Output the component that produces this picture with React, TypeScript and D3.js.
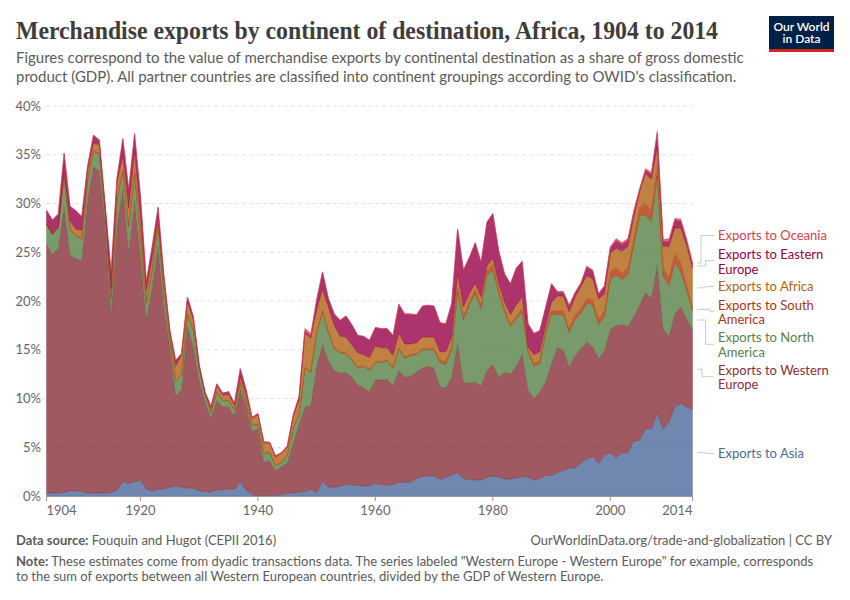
import React, { useEffect, useRef } from 'react';
import * as d3 from 'd3';

// values, % of GDP, one per year from 1904 to 2014
const firstYear = 1904;
const asia = [
  0.3, 0.3, 0.3, 0.35, 0.5, 0.55,
  0.45, 0.25, 0.3, 0.3, 0.3, 0.35, 0.6, 1.45, 1.3, 1.45,
  1.65, 0.7, 0.5, 0.7, 0.7, 0.9, 1.0, 0.9, 0.8, 0.8,
  0.55, 0.45, 0.4, 0.6, 0.65, 0.7, 0.7, 1.45, 0.6, 0.15,
  0.05, 0.05, 0.05, 0.1, 0.15, 0.25, 0.3, 0.4, 0.45, 0.7,
  0.35, 1.5, 0.9, 0.9, 1.0, 1.2, 1.15, 1.1, 1.0, 1.05,
  1.3, 1.15, 1.15, 1.15, 1.4, 1.4, 1.4, 1.8, 2.0, 2.05,
  2.05, 1.7, 1.9, 2.15, 2.4, 1.8, 1.7, 1.65, 1.65, 1.9,
  2.05, 1.95, 1.75, 1.75, 1.85, 2.0, 1.9, 1.65, 1.8, 2.1,
  2.1, 2.4, 2.65, 2.85, 2.9, 3.35, 3.8, 4.05, 3.35, 4.2,
  4.4, 3.95, 4.45, 4.45, 5.65, 5.7, 6.9, 6.9, 8.55, 6.85,
  7.6, 9.15, 9.5, 9.1, 8.9,
];
const westernEurope = [
  25.5, 24.5, 25.1, 29.3, 24.2, 23.8,
  23.7, 30.1, 33.5, 33.0, 27.7, 18.2, 27.0, 30.1, 23.8, 28.8,
  22.9, 17.4, 21.0, 24.9, 18.7, 14.4, 9.3, 10.0, 16.6, 14.5,
  11.3, 9.2, 7.6, 9.2, 8.5, 8.5, 7.5, 9.5, 8.6, 6.5,
  6.8, 3.4, 3.6, 2.5, 2.85, 3.15, 5.1, 6.9, 8.65, 8.6,
  12.95, 14.0, 13.0, 12.0, 11.6, 11.5, 11.05, 10.3, 10.1, 9.65,
  10.6, 10.75, 10.85, 10.15, 11.5, 10.8, 10.9, 10.95, 11.1, 11.25,
  11.05, 9.5, 9.2, 10.05, 13.3, 9.9, 9.9, 10.05, 9.65, 11.0,
  11.45, 10.25, 10.95, 10.75, 11.45, 12.6, 9.0, 8.35, 8.9, 9.6,
  11.5, 12.8, 12.35, 10.35, 11.5, 11.75, 12.0, 11.25, 10.75, 10.7,
  12.7, 13.55, 13.15, 12.95, 12.75, 13.9, 14.0, 13.4, 15.15, 10.35,
  8.8, 9.55, 9.9, 9.1, 8.2,
];
const northAmerica = [
  2.0, 2.0, 2.1, 3.2, 2.6, 2.3,
  2.2, 2.0, 1.5, 1.8, 1.2, 1.8, 2.8, 1.8, 2.5, 2.9,
  2.1, 1.7, 1.7, 2.2, 1.7, 0.9, 1.5, 1.5, 1.2, 1.7,
  1.2, 0.7, 0.6, 0.9, 0.6, 0.6, 0.6, 0.7, 0.5, 0.6,
  0.5, 0.9, 0.8, 0.5, 0.4, 0.8, 1.5, 1.0, 4.0, 3.4,
  3.4, 3.4, 2.9, 2.2, 2.1, 1.9, 1.8, 1.7, 2.2, 2.2,
  1.8, 1.8, 1.9, 1.8, 2.2, 1.9, 2.1, 1.75, 1.9, 1.7,
  1.9, 2.5, 2.4, 2.9, 5.3, 6.4, 8.0, 9.1, 7.9, 9.8,
  9.7, 8.6, 6.2, 4.9, 4.9, 4.2, 3.9, 3.3, 2.9, 5.0,
  5.1, 3.4, 3.6, 3.6, 3.7, 3.6, 4.0, 4.3, 3.5, 3.5,
  5.1, 5.2, 4.6, 5.3, 7.3, 9.2, 7.9, 7.8, 9.1, 5.3,
  5.2, 5.2, 3.6, 2.9, 1.9,
];
const southAmerica = [
  0.05, 0.05, 0.05, 0.1, 0.1, 0.1,
  0.1, 0.1, 0.1, 0.1, 0.1, 0.1, 0.1, 0.1, 0.1, 0.1,
  0.1, 0.1, 0.1, 0.1, 0.1, 0.1, 0.1, 0.1, 0.1, 0.1,
  0.05, 0.05, 0.05, 0.05, 0.05, 0.05, 0.05, 0.05, 0.05, 0.05,
  0.05, 0.05, 0.05, 0.05, 0.05, 0.05, 0.05, 0.05, 0.1, 0.1,
  0.1, 0.15, 0.1, 0.1, 0.1, 0.1, 0.1, 0.1, 0.1, 0.1,
  0.1, 0.1, 0.1, 0.1, 0.1, 0.15, 0.15, 0.1, 0.1, 0.15,
  0.15, 0.3, 0.3, 0.2, 0.4, 0.3, 0.3, 0.3, 0.4, 0.4,
  0.5, 0.3, 0.3, 0.2, 0.3, 0.4, 0.2, 0.3, 0.3, 0.3,
  0.3, 0.4, 0.4, 0.4, 0.5, 0.5, 0.5, 0.5, 0.5, 0.6,
  0.8, 0.7, 0.7, 0.7, 0.7, 0.8, 1.2, 1.2, 1.0, 0.9,
  0.8, 1.0, 0.9, 0.6, 0.3,
];
const africa = [
  0.05, 0.05, 0.05, 0.4, 0.8, 0.6,
  0.8, 0.9, 0.8, 0.8, 0.2, 0.8, 1.6, 1.5, 1.8, 2.1,
  1.9, 1.2, 1.2, 0.6, 1.0, 0.6, 1.4, 2.0, 1.2, 1.0,
  0.25, 0.15, 0.35, 0.55, 0.55, 0.55, 0.45, 0.55, 0.65, 0.65,
  0.95, 1.05, 0.95, 0.85, 0.95, 0.75, 1.15, 1.45, 3.5, 3.4,
  2.3, 2.15, 2.5, 2.3, 1.6, 1.6, 1.4, 1.5, 1.1, 1.2,
  1.6, 1.4, 1.2, 1.2, 1.5, 1.35, 1.05, 1.1, 1.2, 1.15,
  1.15, 0.8, 1.0, 1.0, 1.4, 1.0, 0.9, 0.7, 0.8, 0.5,
  0.7, 0.7, 0.7, 1.0, 1.1, 1.2, 0.3, 0.9, 0.9, 0.5,
  0.9, 1.5, 1.5, 1.7, 1.8, 2.3, 2.3, 2.2, 2.1, 1.7,
  1.9, 2.0, 2.2, 2.2, 2.2, 1.6, 3.1, 3.2, 2.0, 2.2,
  3.2, 2.6, 3.6, 4.0, 4.1,
];
const easternEurope = [
  1.4, 1.4, 1.3, 1.8, 1.5, 1.9,
  1.4, 0.5, 0.8, 0.5, 0.2, 1.7, 0.5, 1.7, 1.9, 1.8,
  2.1, 0.9, 1.1, 1.1, 0.3, 0.1, 0.6, 0.1, 0.5, 0.3,
  0.1, 0.1, 0.2, 0.2, 0.2, 0.3, 0.2, 0.8, 0.5, 0.1,
  0.1, 0.1, 0.05, 0.1, 0.05, 0.1, 0.2, 0.4, 0.2, 0.2,
  1.0, 1.75, 0.85, 1.15, 1.6, 2.15, 2.05, 1.75, 1.85, 1.75,
  1.85, 1.95, 1.95, 2.05, 2.95, 3.05, 3.05, 2.85, 3.15, 3.25,
  3.15, 2.95, 2.85, 3.45, 4.55, 3.75, 3.65, 4.15, 3.55, 4.45,
  4.55, 3.35, 2.85, 3.15, 3.75, 3.65, 2.35, 2.15, 2.15, 1.85,
  1.85, 0.4, 0.4, 0.6, 0.4, 0.3, 0.9, 0.8, 0.5, 0.8,
  0.5, 0.8, 0.7, 0.6, 0.5, 0.2, 0.3, 0.5, 1.4, 0.5,
  0.5, 0.8, 0.7, 0.5, 0.4,
];
const oceania = [
  0.02, 0.02, 0.02, 0.02, 0.02, 0.02,
  0.02, 0.02, 0.02, 0.02, 0.02, 0.02, 0.02, 0.02, 0.02, 0.02,
  0.02, 0.02, 0.02, 0.02, 0.02, 0.02, 0.02, 0.02, 0.02, 0.02,
  0.02, 0.02, 0.02, 0.02, 0.02, 0.02, 0.02, 0.02, 0.02, 0.02,
  0.02, 0.02, 0.02, 0.02, 0.02, 0.02, 0.02, 0.02, 0.3, 0.3,
  0.05, 0.05, 0.05, 0.05, 0.05, 0.05, 0.05, 0.05, 0.05, 0.05,
  0.05, 0.05, 0.05, 0.05, 0.05, 0.05, 0.05, 0.05, 0.05, 0.05,
  0.05, 0.05, 0.05, 0.05, 0.05, 0.05, 0.05, 0.05, 0.05, 0.05,
  0.05, 0.05, 0.05, 0.05, 0.05, 0.05, 0.05, 0.05, 0.05, 0.05,
  0.05, 0.1, 0.1, 0.1, 0.1, 0.1, 0.1, 0.1, 0.1, 0.1,
  0.2, 0.2, 0.2, 0.2, 0.2, 0.2, 0.2, 0.2, 0.3, 0.2,
  0.3, 0.2, 0.2, 0.2, 0.2,
];

const seriesNames = ['asia', 'westernEurope', 'northAmerica', 'southAmerica', 'africa', 'easternEurope', 'oceania'];
const seriesValues = [asia, westernEurope, northAmerica, southAmerica, africa, easternEurope, oceania];
const seriesColors = ['#4C6A9C', '#883039', '#578145', '#B13507', '#B16214', '#970046', '#D73C50'];

const yTicks = [0, 5, 10, 15, 20, 25, 30, 35, 40];
const xTicks = [1904, 1920, 1940, 1960, 1980, 2000, 2014];

// legend text on the right, with the baseline of its first line and the elbow of its connector
const legend = [
  { name: 'oceania', lines: ['Exports to Oceania'], baseline: 240.3, centre: 235.5, elbow: 701 },
  { name: 'easternEurope', lines: ['Exports to Eastern', 'Europe'], baseline: 259, centre: 260.7, elbow: 705.5 },
  { name: 'africa', lines: ['Exports to Africa'], baseline: 291.2, centre: 286.7, elbow: 705.5 },
  { name: 'southAmerica', lines: ['Exports to South', 'America'], baseline: 309.5, centre: 311.3, elbow: 710 },
  { name: 'northAmerica', lines: ['Exports to North', 'America'], baseline: 342, centre: 344.3, elbow: 705.5 },
  { name: 'westernEurope', lines: ['Exports to Western', 'Europe'], baseline: 374.5, centre: 376.7, elbow: 702 },
  { name: 'asia', lines: ['Exports to Asia'], baseline: 458, centre: 453.5, elbow: 705.5 },
];

const width = 850;
const height = 600;
const sans = 'Lato, sans-serif';

const App = () => {
  const chartRef = useRef<SVGGElement | null>(null);

  useEffect(() => {
    const g = d3.select(chartRef.current);
    g.selectAll('*').remove();

    const rows = asia.map((_, i) => {
      const row: Record<string, number> = { year: firstYear + i };
      seriesNames.forEach((name, s) => { row[name] = seriesValues[s][i]; });
      return row;
    });

    const x = d3.scaleLinear().domain([1904, 2014]).range([46.5, 692.5]);
    const y = d3.scaleLinear().domain([0, 40]).range([496, 106]);
    const color = d3.scaleOrdinal<string, string>().domain(seriesNames).range(seriesColors);

    const stacked = d3.stack<Record<string, number>>().keys(seriesNames)(rows);
    const area = d3.area<any>()
      .x(d => x(d.data.year))
      .y0(d => y(d[0]))
      .y1(d => y(d[1]));

    // gridlines go under the areas, they show through a little
    g.append('g')
      .selectAll('line')
      .data(yTicks.filter(t => t > 0))
      .enter()
      .append('line')
      .attr('x1', 46.5)
      .attr('x2', 692.5)
      .attr('y1', d => y(d))
      .attr('y2', d => y(d))
      .attr('stroke', '#dddddd')
      .attr('stroke-dasharray', '3,4');

    g.append('g')
      .selectAll('path')
      .data(stacked)
      .enter()
      .append('path')
      .attr('d', area)
      .attr('fill', d => color(d.key))
      .attr('fill-opacity', 0.8)
      .attr('stroke', d => color(d.key))
      .attr('stroke-width', 0.5)
      .attr('stroke-opacity', 0.7);

    // y axis labels
    g.append('g')
      .selectAll('text')
      .data(yTicks)
      .enter()
      .append('text')
      .attr('x', 41)
      .attr('y', d => y(d) + 4.6)
      .attr('text-anchor', 'end')
      .attr('font-size', 13)
      .attr('fill', '#666666')
      .text(d => `${d}%`);

    // x axis ticks and labels
    g.append('line')
      .attr('x1', 46.5)
      .attr('x2', 692.5)
      .attr('y1', 496.5)
      .attr('y2', 496.5)
      .attr('stroke', '#999999');

    g.append('g')
      .selectAll('line')
      .data(xTicks)
      .enter()
      .append('line')
      .attr('x1', d => x(d))
      .attr('x2', d => x(d))
      .attr('y1', 496)
      .attr('y2', 501)
      .attr('stroke', '#999999');

    g.append('g')
      .selectAll('text')
      .data(xTicks)
      .enter()
      .append('text')
      .attr('x', d => x(d))
      .attr('y', 515)
      .attr('text-anchor', d => (d === 1904 ? 'start' : d === 2014 ? 'end' : 'middle'))
      .attr('font-size', 13)
      .attr('fill', '#666666')
      .text(d => d);

    // connectors start at the middle of each band in the last year
    const last = rows.length - 1;
    const bandMiddle = (name: string) => {
      const band = stacked.find(s => s.key === name)!;
      return y((band[last][0] + band[last][1]) / 2);
    };

    const labels = g.append('g');
    legend.forEach(item => {
      const startY = bandMiddle(item.name);
      labels.append('path')
        .attr('d', `M697.5,${startY}H${item.elbow}V${item.centre}H714`)
        .attr('fill', 'none')
        .attr('stroke', '#cccccc')
        .attr('stroke-width', 1);
      const text = labels.append('text')
        .attr('font-size', 13)
        .attr('fill', color(item.name));
      item.lines.forEach((line, i) => {
        text.append('tspan')
          .attr('x', 718)
          .attr('y', item.baseline + i * 14.5)
          .text(line);
      });
    });
  }, []);

  return (
    <svg
      width={width}
      height={height}
      viewBox={`0 0 ${width} ${height}`}
      style={{ position: 'absolute', left: 0, top: 0, background: '#fff', fontFamily: sans }}
    >
      <text
        x={16}
        y={39}
        fontFamily="'Liberation Serif', serif"
        fontWeight={700}
        fontSize={26}
        fill="#3d3d3d"
        textLength={702}
        lengthAdjust="spacingAndGlyphs"
      >
        Merchandise exports by continent of destination, Africa, 1904 to 2014
      </text>
      <text x={16} y={63} fontSize={15} fill="#5b5b5b">
        Figures correspond to the value of merchandise exports by continental destination as a share of gross domestic
      </text>
      <text x={16} y={81.5} fontSize={15} fill="#5b5b5b">
        product (GDP). All partner countries are classified into continent groupings according to OWID's classification.
      </text>

      <g>
        <rect x={769} y={16} width={65} height={36} fill="#002147" />
        <rect x={769} y={49} width={65} height={3} fill="#CE261E" />
        <text textAnchor="middle" fontSize={12} fontWeight={600} fill="#ffffff">
          <tspan x={801.5} y={30.7}>Our World</tspan>
          <tspan x={801.5} y={42.8}>in Data</tspan>
        </text>
      </g>

      <g ref={chartRef} />

      <text x={16} y={545} fontSize={13} fill="#5b5b5b">
        <tspan fontWeight={700}>Data source:</tspan> Fouquin and Hugot (CEPII 2016)
      </text>
      <text x={832} y={545} textAnchor="end" fontSize={13} fill="#5b5b5b">
        OurWorldinData.org/trade-and-globalization | CC BY
      </text>
      <text x={16} y={566} fontSize={13} fill="#5b5b5b">
        <tspan fontWeight={700}>Note:</tspan> These estimates come from dyadic transactions data. The series labeled "Western Europe - Western Europe" for example, corresponds
      </text>
      <text x={16} y={581} fontSize={13} fill="#5b5b5b">
        to the sum of exports between all Western European countries, divided by the GDP of Western Europe.
      </text>
    </svg>
  );
};

export default App;
